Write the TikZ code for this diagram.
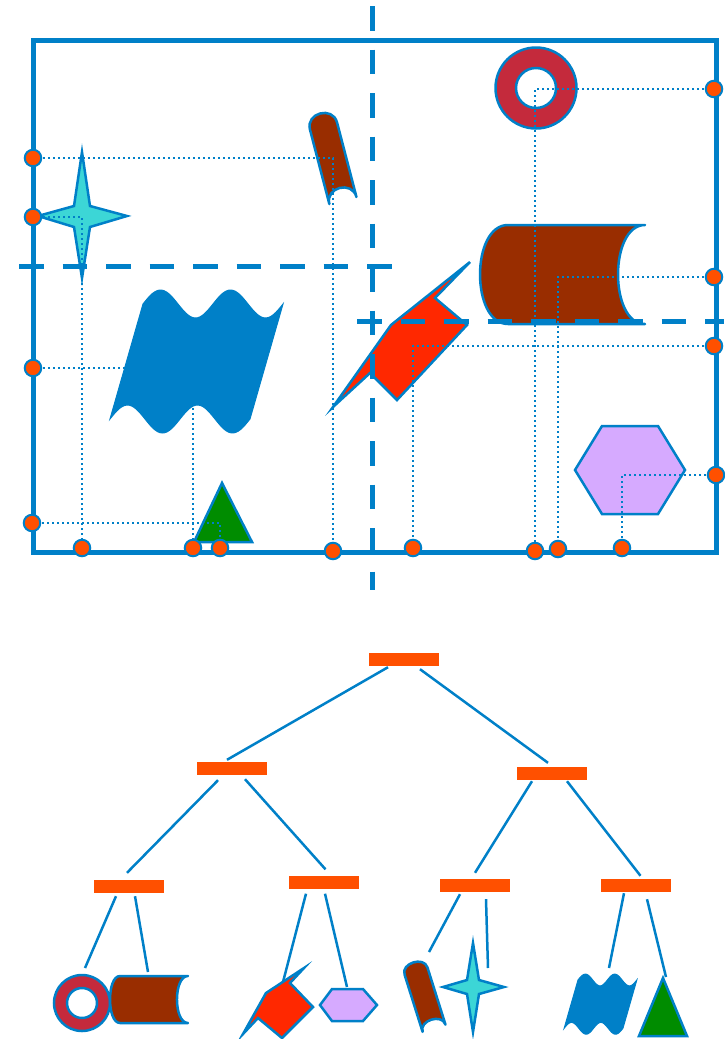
\documentclass[tikz,border=0pt]{standalone}
\usepackage{xcolor}
\usepackage{tikz}
\usetikzlibrary{positioning}
\definecolor{PlanBlue}{RGB}{0,128,200}
\definecolor{PlanOrange}{RGB}{255,80,0}
\definecolor{PlanBrown}{RGB}{153,45,0}
\definecolor{PlanCrimson}{RGB}{196,42,60}
\definecolor{PlanCyan}{RGB}{60,214,214}
\definecolor{PlanRed}{RGB}{255,40,0}
\definecolor{PlanLilac}{RGB}{214,170,255}
\definecolor{PlanGreen}{RGB}{0,140,0}
\pgfdeclarelayer{front}
\pgfsetlayers{main,front}

\begin{document}
\begin{tikzpicture}[
  x=1pt, y=-1pt,
  boxline/.style={draw=PlanBlue, line width=5pt},
  guide/.style={draw=PlanBlue, line width=5pt, dash pattern=on 24.5pt off 19pt},
  leader/.style={draw=PlanBlue, line width=2.4pt, dash pattern=on 2.4pt off 2.6pt},
  probe/.style={circle, draw=PlanBlue, line width=2pt, fill=PlanOrange, minimum size=16.5pt, inner sep=0pt},
  piece/.style={draw=PlanBlue, line width=2.5pt},
  tube/.style={piece, fill=PlanBrown, line join=round},
  waveshape/.style={draw=PlanBlue, fill=PlanBlue, line width=1pt},
  splitbar/.style={rectangle, fill=PlanOrange, minimum width=70pt, minimum height=13pt, inner sep=0pt},
  branch/.style={draw=PlanBlue, line width=2.5pt}
]
\useasboundingbox (0,0) rectangle (724,1039);

% Top: the plane with its objects
\draw[boxline] (33,40) rectangle (716,552);

% star
\filldraw[piece, fill=PlanCyan] (82,152) -- (90,206) -- (127,216) -- (90,227) -- (82,278) -- (74,227) -- (38,216) -- (74,206) -- cycle;
% tilted tube
\begin{scope}[shift={(323.5,126)}, rotate=14.6]
  \filldraw[tube] (-14,0) .. controls (-14,-17.3) and (14,-17.3) .. (14,0) -- (14,77) .. controls (14,59.7) and (-14,59.7) .. (-14,77) -- cycle;
\end{scope}
% wave
\filldraw[waveshape] plot[domain=143:283, samples=60] (\x, {304-14*sin(36*(\x-143)/7)}) -- plot[domain=250:110, samples=60] (\x, {419-14*sin(36*(\x-110)/7)}) -- cycle;
% triangle
\filldraw[piece, fill=PlanGreen] (222,483) -- (252,542) -- (194,542) -- cycle;
% ring
\filldraw[piece, fill=PlanCrimson, even odd rule] (536,88) circle (40.5) (536,88) circle (20);
% big tube
\filldraw[tube] (508,225) .. controls (470.7,225) and (470.7,324) .. (508,324) -- (645,324) .. controls (609,324) and (609,225) .. (645,225) -- cycle;
% bolt
\filldraw[piece, fill=PlanRed] (333,407) -- (391,325) -- (470,262) -- (435,298) -- (467,325) -- (397,400) -- (370,373) -- cycle;
% hexagon
\filldraw[piece, fill=PlanLilac] (575,470) -- (602,426) -- (658,426) -- (685,470) -- (658,514) -- (602,514) -- cycle;

% Projection points
\begin{pgfonlayer}{front}
\node[probe] (pL1) at (33,158) {};
\node[probe] (pL2) at (33,217) {};
\node[probe] (pL3) at (33,368) {};
\node[probe] (pL4) at (32,523) {};
\node[probe] (pR1) at (714,89) {};
\node[probe] (pR2) at (714,277) {};
\node[probe] (pR3) at (714,346) {};
\node[probe] (pR4) at (716,475) {};
\node[probe] (pB1) at (82,548) {};
\node[probe] (pB2) at (193,548) {};
\node[probe] (pB3) at (220,548) {};
\node[probe] (pB4) at (333,551) {};
\node[probe] (pB5) at (413,548) {};
\node[probe] (pB6) at (535,551) {};
\node[probe] (pB7) at (558,549) {};
\node[probe] (pB8) at (622,548) {};
\end{pgfonlayer}

\draw[leader] (pL1.center) -| (pB4.center);
\draw[leader] (pL2.center) -| (pB1.center);
\draw[leader] (pL3.center) -| (pB2.center);
\draw[leader] (pL4.center) -| (pB3.center);
\draw[leader] (pR1.center) -| (pB6.center);
\draw[leader] (pR2.center) -| (pB7.center);
\draw[leader] (pR3.center) -| (pB5.center);
\draw[leader] (pR4.center) -| (pB8.center);

% Split lines
\draw[guide] (372.5,6) -- (372.5,590);
\draw[guide] (19,266) -- (392,266);
\draw[guide] (357,321) -- (724,321);

% Bottom: the tree
\node[splitbar] (root) at (404,659.5) {};
\node[splitbar] (nA) at (232,768.5) {};
\node[splitbar] (nB) at (552,773.5) {};
\node[splitbar] (nAA) at (129,886.5) {};
\node[splitbar] (nAB) at (323.5,882) {};
\node[splitbar] (nBA) at (474.5,885.5) {};
\node[splitbar] (nBB) at (635.5,885.5) {};

\draw[branch] ([xshift=-16pt,yshift=-1pt]root.south) -- ([xshift=-5pt,yshift=2pt]nA.north);
\draw[branch] ([xshift=16pt,yshift=-3pt]root.south) -- ([xshift=-4pt,yshift=4pt]nB.north);
\draw[branch] ([xshift=-14pt,yshift=-5pt]nA.south) -- ([xshift=-2pt,yshift=7pt]nAA.north);
\draw[branch] ([xshift=13pt,yshift=-4pt]nA.south) -- ([xshift=2pt,yshift=6pt]nAB.north);
\draw[branch] ([xshift=-20pt,yshift=-1pt]nB.south) -- ([xshift=0.5pt,yshift=6pt]nBA.north);
\draw[branch] ([xshift=15pt,yshift=-1pt]nB.south) -- ([xshift=5pt,yshift=3pt]nBB.north);

% leaves
\coordinate (lfRing) at (85,968);
\coordinate (lfTube) at (148,972);
\coordinate (lfBolt) at (283,982);
\coordinate (lfHex) at (347,987);
\coordinate (lfRoll) at (429,952);
\coordinate (lfStar) at (488,968);
\coordinate (lfWave) at (609,968);
\coordinate (lfTri) at (666,977);

\draw[branch] ([xshift=-13pt,yshift=-3pt]nAA.south) -- (lfRing);
\draw[branch] ([xshift=6pt,yshift=-3pt]nAA.south) -- (lfTube);
\draw[branch] ([xshift=-17.5pt,yshift=-5pt]nAB.south) -- (lfBolt);
\draw[branch] ([xshift=1.5pt,yshift=-5pt]nAB.south) -- (lfHex);
\draw[branch] ([xshift=-14.5pt,yshift=-2pt]nBA.south) -- (lfRoll);
\draw[branch] ([xshift=11.5pt,yshift=-7pt]nBA.south) -- (lfStar);
\draw[branch] ([xshift=-11.5pt,yshift=-1pt]nBB.south) -- (lfWave);
\draw[branch] ([xshift=11.5pt,yshift=-7pt]nBB.south) -- (lfTri);

\filldraw[piece, fill=PlanCrimson, even odd rule] (82,1003) circle (28) (82,1003) circle (15);
\filldraw[tube] (120,976) .. controls (106.7,976) and (106.7,1023) .. (120,1023) -- (188,1023) .. controls (173.3,1023) and (173.3,976) .. (188,976) -- cycle;
\filldraw[piece, fill=PlanRed] (243,1034) -- (266,993) -- (304,968) -- (290,983) -- (313,1007) -- (282,1038) -- (258,1018) -- cycle;
\filldraw[piece, fill=PlanLilac] (320,1005) -- (332,989) -- (363,989) -- (377,1005) -- (363,1021) -- (332,1021) -- cycle;
\begin{scope}[shift={(416,971)}, rotate=17.5]
  \filldraw[tube] (-12,0) .. controls (-12,-12) and (12,-12) .. (12,0) -- (12,60) .. controls (12,48) and (-12,48) .. (-12,60) -- cycle;
\end{scope}
\filldraw[piece, fill=PlanCyan] (473,943) -- (479,980) -- (504,987) -- (479,994) -- (473,1032) -- (467,994) -- (443,987) -- (467,980) -- cycle;
\begin{scope}[shift={(578,980)}, scale=0.42, shift={(-143,-304)}]
  \filldraw[waveshape] plot[domain=143:283, samples=60] (\x, {304-14*sin(36*(\x-143)/7)}) -- plot[domain=250:110, samples=60] (\x, {419-14*sin(36*(\x-110)/7)}) -- cycle;
\end{scope}
\filldraw[piece, fill=PlanGreen] (663,978) -- (687,1036) -- (639,1036) -- cycle;

\end{tikzpicture}
\end{document}
